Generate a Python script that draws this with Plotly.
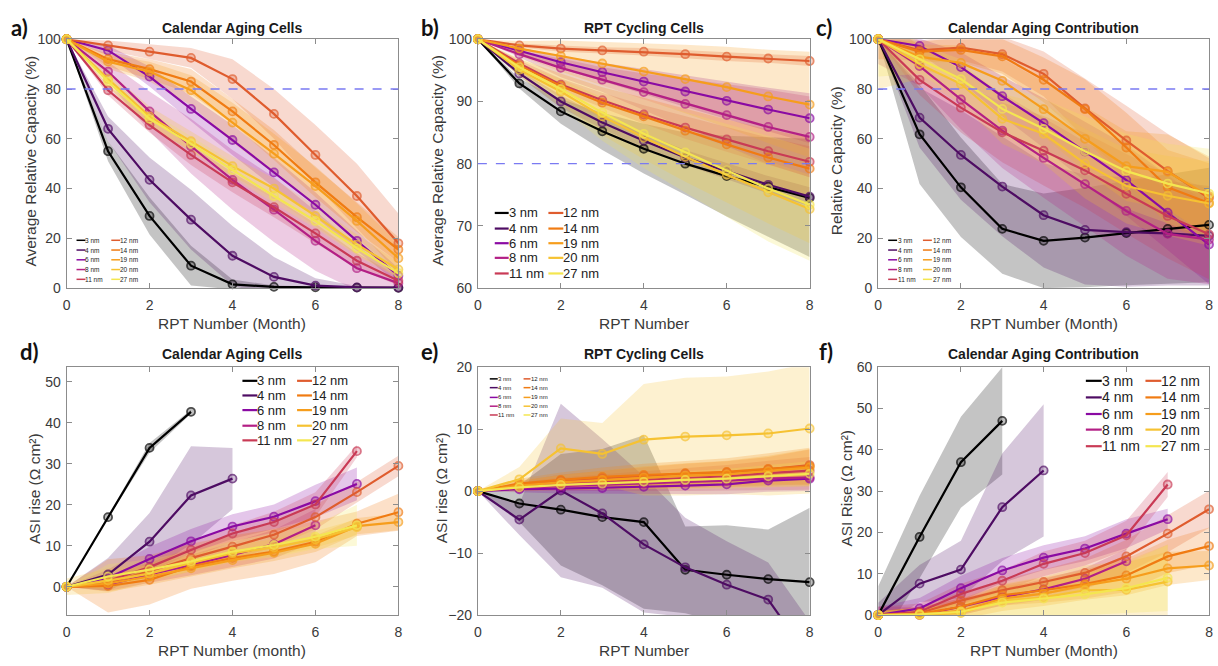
import plotly.graph_objects as go

W, H = 1218, 666

SIZES = ["3 nm", "4 nm", "6 nm", "8 nm", "11 nm", "12 nm", "14 nm", "19 nm", "20 nm", "27 nm"]
COLORS = ["#000000", "#4e0c63", "#8a0aa3", "#b31f85", "#c93a55", "#df5c2e",
          "#f07b12", "#f69d1c", "#f6c232", "#f4e650"]
RPT = [0, 1, 2, 3, 4, 5, 6, 7, 8]

# (a) calendar aging cells: average relative capacity (%)
A_MEAN = [
    [100, 55, 29, 9, 1.5, 0.5, 0.3, 0.2, 0.1],
    [100, 64, 43.5, 27.5, 13, 4.5, 1, 0.3, 0.2],
    [100, 95.5, 85, 72, 59.5, 46.5, 33.5, 19, 5],
    [100, 87, 71, 57, 43.5, 31.5, 19, 8, 2],
    [100, 79.5, 65.5, 53.5, 42.5, 32.5, 22, 11, 3],
    [100, 97.5, 95, 92.5, 84, 70, 53.5, 37, 18],
    [100, 92, 88, 83, 71, 57.5, 42.5, 28.5, 15.5],
    [100, 91, 87, 79.5, 66.5, 54, 41, 27, 12],
    [100, 84, 69, 59, 49, 40, 29, 17.5, 7.5],
    [100, 83, 68, 58, 47.5, 37, 27, 16, 6],
]
A_SD = [
    [0, 4, 7.5, 8, 2, 0.5, 0.3, 0.2, 0.1],
    [0, 5, 9, 12, 12, 8, 3, 0.5, 0.3],
    [0, 2, 4, 5, 6, 6, 5, 4, 3],
    [0, 4, 8, 11, 12, 13, 12, 9, 3],
    [0, 2, 3, 4, 4, 4, 4, 3, 2],
    [0, 2, 3, 4, 8, 10, 12, 13, 12],
    [0, 3, 4, 5, 5, 6, 6, 6, 5],
    [0, 3, 4, 6, 8, 8, 8, 7, 6],
    [0, 3, 4, 4, 4, 4, 4, 4, 3],
    [0, 2, 3, 3, 3, 3, 3, 3, 2],
]

# (b) RPT cycling cells: average relative capacity (%)
B_MEAN = [
    [100, 92.9, 88.4, 85.2, 82.4, 80.0, 78.0, 76.3, 74.5],
    [100, 94.5, 90.0, 86.6, 83.7, 81.0, 78.8, 76.6, 74.7],
    [100, 98.2, 96.3, 94.7, 93.2, 91.6, 90.1, 88.7, 87.3],
    [100, 97.6, 95.4, 93.5, 91.5, 89.6, 87.8, 85.9, 84.3],
    [100, 96.1, 92.7, 90.2, 87.9, 85.8, 83.9, 82.0, 80.3],
    [100, 99.0, 98.5, 98.2, 98.0, 97.6, 97.2, 96.9, 96.5],
    [100, 95.8, 92.5, 89.8, 87.6, 85.3, 83.1, 81.0, 79.2],
    [100, 98.5, 97.3, 96.1, 94.8, 93.6, 92.3, 90.8, 89.5],
    [100, 95.1, 91.6, 87.6, 84.2, 81.1, 78.2, 75.4, 72.7],
    [100, 95.5, 92.0, 88.2, 84.8, 81.8, 78.9, 76.0, 73.4],
]
B_SD = [
    [0, 0.8, 2, 3, 4, 5, 6.5, 8, 9.5],
    [0, 0.5, 1, 1, 1.2, 1.2, 1.3, 1.4, 1.5],
    [0, 0.5, 1, 1.5, 2, 2.5, 3, 3.5, 4],
    [0, 0.5, 1.5, 2, 3, 4, 5, 6, 6.5],
    [0, 0.5, 1, 1.2, 1.5, 1.8, 2, 2.2, 2.5],
    [0, 0.3, 0.5, 0.5, 0.6, 0.6, 0.7, 0.7, 0.8],
    [0, 1, 2, 2.5, 3, 3.5, 4, 4.5, 5],
    [0, 1.2, 2.5, 3.5, 4.5, 5.5, 6.5, 7.5, 8.5],
    [0, 1, 2, 3, 3.5, 4, 4.5, 5, 5.5],
    [0, 1.5, 3, 4.5, 5.5, 6.5, 7.5, 8.5, 9],
]

# (c) calendar aging contribution: relative capacity (%)
C_MEAN = [
    [100, 61.8, 40.5, 23.8, 19.0, 20.3, 22.1, 23.8, 25.4],
    [100, 68.5, 53.5, 40.8, 29.3, 23.4, 22.5, 22.0, 21.0],
    [100, 97.3, 88.8, 77.1, 66.3, 54.9, 43.4, 30.3, 17.5],
    [100, 89.2, 75.8, 63.3, 52.3, 41.8, 31.0, 21.8, 19.5],
    [100, 83.7, 72.5, 62.6, 55.2, 47.3, 37.9, 29.0, 21.6],
    [100, 95.5, 96.6, 94.0, 86.1, 72.2, 59.3, 47.0, 36.2],
    [100, 95.0, 95.7, 93.1, 83.7, 71.9, 56.5, 40.5, 34.2],
    [100, 93.0, 90.5, 83.3, 71.9, 60.0, 49.0, 46.7, 36.9],
    [100, 90.0, 82.0, 68.0, 62.0, 50.0, 41.0, 37.1, 34.0],
    [100, 92.0, 84.0, 72.0, 64.0, 55.0, 47.0, 42.0, 38.0],
]
C_SD = [
    [0, 20, 20, 18, 19, 20, 21, 22, 23],
    [0, 12, 18, 20, 21, 22, 22, 21, 20],
    [0, 3, 6, 8, 10, 12, 14, 15, 16],
    [10, 8, 12, 15, 16, 17, 18, 18, 18],
    [0, 6, 10, 12, 14, 15, 16, 17, 18],
    [8, 4, 5, 7, 9, 12, 14, 15, 16],
    [0, 4, 5, 7, 9, 12, 14, 15, 16],
    [0, 5, 7, 9, 11, 13, 14, 15, 16],
    [20, 6, 8, 10, 12, 14, 15, 16, 17],
    [15, 6, 8, 10, 12, 14, 15, 16, 18],
]

# (d) calendar aging cells: ASI rise (ohm cm^2); shorter lists end early
D_MEAN = [
    [0, 17.0, 33.9, 42.7],
    [0, 3.0, 11.0, 22.3, 26.4],
    [0, 2.2, 6.8, 11.1, 14.7, 17.1, 20.9, 25.1],
    [0, 0.5, 3.0, 5.3, 7.8, 10.4, 15.0],
    [0, 1.4, 4.8, 9.0, 13.0, 15.8, 20.1, 33.1],
    [0, 1.0, 3.8, 7.0, 9.8, 12.7, 17.0, 23.1, 29.5],
    [0, 0.2, 1.7, 5.0, 7.0, 8.6, 11.0, 15.4, 18.2],
    [0, 0.8, 2.5, 4.5, 6.5, 8.3, 10.5, 14.8, 15.8],
    [0, 1.5, 3.2, 5.8, 8.2, 9.6, 11.6, 14.5],
    [0, 2.5, 4.2, 6.2, 8.6, 10.2, 12.2, 15.0],
]
D_SD = [
    [0, 0.3, 1.2, 0.5],
    [0, 4, 7, 12, 7.5],
    [0, 2, 3, 3, 3, 3, 4, 4],
    [0, 1.5, 2, 2.5, 3, 3.5, 4],
    [0, 1, 1.5, 2, 2, 2.5, 3, 1.5],
    [0, 1.5, 2, 2.5, 3, 3, 3, 2.5, 2.5],
    [0, 6.5, 6, 5.5, 5.5, 5.5, 5, 3, 4.5],
    [0, 2, 2, 2, 2, 2, 2, 2, 2],
    [2, 3, 2, 2, 2, 2, 2, 2],
    [0, 3, 2.5, 2.5, 2.5, 3, 3, 5],
]

# (e) RPT cycling cells: ASI rise (ohm cm^2)
E_MEAN = [
    [0, -2.0, -3.0, -4.2, -5.0, -12.7, -13.5, -14.2, -14.7],
    [0, -4.6, 0.1, -3.6, -8.6, -12.3, -15.1, -17.5, -27.0],
    [0, 0.3, 0.4, 0.5, 0.7, 0.9, 1.1, 1.7, 2.0],
    [0, 0.5, 0.8, 1.0, 1.2, 1.4, 1.7, 2.0, 2.2],
    [0, 0.8, 1.2, 1.5, 1.8, 2.1, 2.4, 2.9, 3.3],
    [0, 1.0, 1.7, 2.1, 2.4, 2.8, 3.0, 3.5, 4.2],
    [0, 1.2, 1.8, 2.3, 2.6, 2.9, 3.1, 3.6, 4.0],
    [0, 0.9, 1.4, 1.8, 2.2, 2.5, 2.7, 3.2, 3.8],
    [0, 1.9, 6.9, 6.0, 8.3, 8.8, 9.0, 9.3, 10.1],
    [0, 0.6, 1.0, 1.2, 1.5, 1.8, 2.0, 2.4, 2.8],
]
E_SD = [
    [0, 3, 9, 11, 14, 7, 8, 8, 12],
    [0, 2.5, 14, 12, 11, 8, 7, 6, 6],
    [0, 0.5, 0.8, 1, 1.2, 1.4, 1.6, 1.8, 2],
    [0, 0.5, 0.8, 1, 1.2, 1.4, 1.6, 1.8, 2],
    [0, 0.6, 1, 1.2, 1.5, 1.6, 1.8, 2, 2.2],
    [0, 0.6, 1, 1.2, 1.5, 1.6, 1.8, 2, 2.5],
    [0, 0.8, 1.2, 1.5, 1.8, 2, 2.2, 2.5, 3],
    [0, 0.8, 1.2, 1.5, 1.8, 2, 2.2, 2.5, 3],
    [0, 2, 4.8, 5.0, 9, 9.5, 9.5, 10, 10.5],
    [0, 0.5, 0.8, 1, 1.2, 1.4, 1.6, 1.8, 2],
]

# (f) calendar aging contribution: ASI rise (ohm cm^2)
F_MEAN = [
    [0, 18.9, 37.0, 47.0],
    [0, 7.6, 11.0, 26.1, 35.0],
    [0, 1.6, 6.5, 10.8, 13.9, 16.1, 19.7, 23.2],
    [0, 0.0, 2.0, 4.3, 6.2, 8.8, 13.0],
    [0, 0.8, 5.1, 8.3, 12.4, 15.0, 19.3, 31.6],
    [0, 0.5, 3.5, 6.0, 8.0, 10.2, 14.2, 19.7, 25.6],
    [0, 0.3, 2.0, 4.8, 6.0, 7.5, 9.6, 14.2, 16.7],
    [0, 0.2, 1.0, 4.0, 5.2, 7.2, 8.8, 11.3, 12.0],
    [0, 0.0, 0.5, 3.5, 4.3, 6.0, 6.1, 8.1],
    [0, 0.2, 0.8, 3.0, 4.0, 5.0, 6.5, 9.0],
]
F_SD = [
    [7, 10, 11, 13],
    [3, 4.5, 7, 13, 16],
    [2, 2.5, 3, 3, 3, 3, 3.5, 2.5],
    [2, 2, 2, 2, 2.5, 2.5, 3],
    [2, 2, 2.5, 2.5, 3, 3, 3.5, 3],
    [1, 1.5, 2, 2.5, 3, 3.5, 4, 4.5, 4.5],
    [1, 1.5, 2, 2.5, 3, 3.5, 4, 4, 4.5],
    [1, 1.5, 2, 3, 3, 3.5, 4, 4, 3.5],
    [1, 1.5, 2.5, 4, 5, 6, 7, 9],
    [1, 1.5, 2, 3, 4, 5, 6, 8],
]

TITLES = ["Calendar Aging Cells", "RPT Cycling Cells", "Calendar Aging Contribution",
          "Calendar Aging Cells", "RPT Cycling Cells", "Calendar Aging Contribution"]
LETTERS = ["a)", "b)", "c)", "d)", "e)", "f)"]
XTITLES = ["RPT Number (Month)", "RPT Number", "RPT Number (Month)",
           "RPT Number (month)", "RPT Number", "RPT Number (Month)"]
YTITLES = ["Average Relative Capacity (%)", "Average Relative Capacity (%)",
           "Relative Capacity (%)", "ASI rise (Ω cm²)",
           "ASI rise (Ω cm²)", "ASI Rise (Ω cm²)"]
YRANGES = [[0, 100], [60, 100], [0, 100], [-6.9, 53.6], [-20, 20], [0, 60]]
YTICKS = [list(range(0, 101, 20)), list(range(60, 101, 10)), list(range(0, 101, 20)),
          list(range(0, 51, 10)), list(range(-20, 21, 10)), list(range(0, 61, 10))]

MEANS = [A_MEAN, B_MEAN, C_MEAN, D_MEAN, E_MEAN, F_MEAN]
SDS = [A_SD, B_SD, C_SD, D_SD, E_SD, F_SD]

FONT = "Liberation Sans, Arial, sans-serif"
TXT = "#3a3a3a"
AXC = "#8c8c8c"


def px(x):
    return x / W


def py(y):
    return 1 - y / H


def rgba(hexc, a):
    h = hexc.lstrip("#")
    r, g, b = int(h[0:2], 16), int(h[2:4], 16), int(h[4:6], 16)
    return f"rgba({r},{g},{b},{a})"


# plot-area boxes in pixels: (left, right, top, bottom)
BOXES = [(63, 397, 32, 287), (477, 811, 32, 287), (880, 1213, 32, 287),
         (63, 397, 368, 622), (477, 811, 368, 622), (880, 1213, 368, 622)]

fig = go.Figure()
layout = dict(width=W, height=H, margin=dict(l=0, r=0, t=0, b=0),
              paper_bgcolor="white", plot_bgcolor="white", showlegend=False)

annotations = []
shapes = []

for p in range(6):
    sfx = "" if p == 0 else str(p + 1)
    xa, ya = "x" + sfx, "y" + sfx
    l, r, t, b = BOXES[p]
    ymin, ymax = YRANGES[p]
    layout["xaxis" + sfx] = dict(
        domain=[px(l), px(r)], range=[0, 8], anchor=ya, tickvals=[0, 2, 4, 6, 8],
        showline=True, mirror="ticks", linecolor=AXC, linewidth=1, ticks="inside",
        ticklen=5, tickcolor=AXC, showgrid=False, zeroline=False,
        tickfont=dict(family=FONT, size=14, color=TXT), ticklabelstandoff=4)
    layout["yaxis" + sfx] = dict(
        domain=[py(b), py(t)], range=YRANGES[p], anchor=xa, tickvals=YTICKS[p],
        showline=True, mirror="ticks", linecolor=AXC, linewidth=1, ticks="inside",
        ticklen=5, tickcolor=AXC, showgrid=False, zeroline=False,
        tickfont=dict(family=FONT, size=14, color=TXT), ticklabelstandoff=2)

    means, sds = MEANS[p], SDS[p]
    # shaded +/- sd bands
    for i in range(10):
        m, s = means[i], sds[i]
        xs = RPT[:len(m)]
        up = [mv + sv for mv, sv in zip(m, s)]
        lo = [mv - sv for mv, sv in zip(m, s)]
        fig.add_trace(go.Scatter(
            x=xs + xs[::-1], y=up + lo[::-1], fill="toself", mode="lines",
            line=dict(width=0), fillcolor=rgba(COLORS[i], 0.23),
            xaxis=xa, yaxis=ya, hoverinfo="skip"))
    # mean lines with circle markers
    for i in range(10):
        m = means[i]
        xs = RPT[:len(m)]
        msize = [8 if ymin <= v <= ymax else 0 for v in m]
        fig.add_trace(go.Scatter(
            x=xs, y=m, mode="lines+markers", name=SIZES[i],
            line=dict(color=COLORS[i], width=2.2),
            marker=dict(symbol="circle", size=msize, color=rgba(COLORS[i], 0.35),
                        line=dict(color=COLORS[i], width=1.8)),
            cliponaxis=False, xaxis=xa, yaxis=ya))

    # 80 % capacity threshold
    if p < 3:
        shapes.append(dict(type="line", xref=xa + " domain", yref=ya, x0=0, x1=1,
                           y0=80, y1=80, line=dict(color="#7a7af2", width=1.3,
                                                   dash="dash"),
                           layer="above"))

    cx = (l + r) / 2
    ty = 20 if p < 3 else 355
    annotations.append(dict(x=px(cx), y=py(ty), xref="paper", yref="paper",
                            text="<b>" + TITLES[p] + "</b>", showarrow=False,
                            font=dict(family=FONT, size=14, color="#1a1a1a"),
                            xanchor="center", yanchor="middle"))
    xty = 323 if p < 3 else 658
    annotations.append(dict(x=px(cx), y=py(xty), xref="paper", yref="paper",
                            text=XTITLES[p], showarrow=False,
                            font=dict(family=FONT, size=15.5, color=TXT),
                            xanchor="center", yanchor="middle"))

# y-axis titles (pixel x of the text centre)
YT_X = [27, 437, 838, 30, 440, 848]
for p in range(6):
    l, r, t, b = BOXES[p]
    annotations.append(dict(x=px(YT_X[p]), y=py((t + b) / 2 - 3), xref="paper",
                            yref="paper", text=YTITLES[p], showarrow=False,
                            textangle=-90, font=dict(family=FONT, size=15.5, color=TXT),
                            xanchor="center", yanchor="middle"))

# panel letters
LET_POS = [(16, 20), (429, 20), (825, 20), (26, 352), (428, 352), (827, 352)]
for p in range(6):
    annotations.append(dict(x=px(LET_POS[p][0]), y=py(LET_POS[p][1]), xref="paper",
                            yref="paper", text="<b>" + LETTERS[p] + "</b>",
                            showarrow=False, font=dict(family="Lato, Open Sans, sans-serif",
                                                       size=22, color="#111111"),
                            xanchor="center", yanchor="middle"))

# two-column legends: (row y list, col1 (x0, x1, text x), col2 (...), font size, line width)
LEGENDS = [
    ([238, 248, 258, 268, 278], (73, 82, 83), (108, 117, 118), 6.5, 1.5),
    ([210, 226, 241, 256, 272], (494, 508, 509), (548, 563, 564), 13, 2.2),
    ([238, 248, 258, 268, 278], (890, 899, 901), (925, 934, 936), 6.5, 1.5),
    ([382, 397, 412, 428, 443], (240, 255, 256), (295, 310, 311), 13, 2.2),
    ([380, 389, 399, 408, 417], (489, 497, 498), (523, 530, 531), 6, 1.5),
    ([382, 399, 416, 432, 449], (1089, 1105, 1106), (1149, 1165, 1166), 14, 2.2),
]
for rows, c1, c2, fs, lw in LEGENDS:
    for i in range(10):
        col = c1 if i < 5 else c2
        yy = rows[i % 5]
        shapes.append(dict(type="line", xref="paper", yref="paper",
                           x0=px(col[0]), x1=px(col[1]), y0=py(yy), y1=py(yy),
                           line=dict(color=COLORS[i], width=lw)))
        annotations.append(dict(x=px(col[2] - 1), y=py(yy), xref="paper", yref="paper",
                                text=SIZES[i], showarrow=False, borderpad=0,
                                borderwidth=0,
                                font=dict(family=FONT, size=fs, color="#222222"),
                                xanchor="left", yanchor="middle"))

layout["annotations"] = annotations
layout["shapes"] = shapes
fig.update_layout(**layout)
fig.write_html("out.html")
